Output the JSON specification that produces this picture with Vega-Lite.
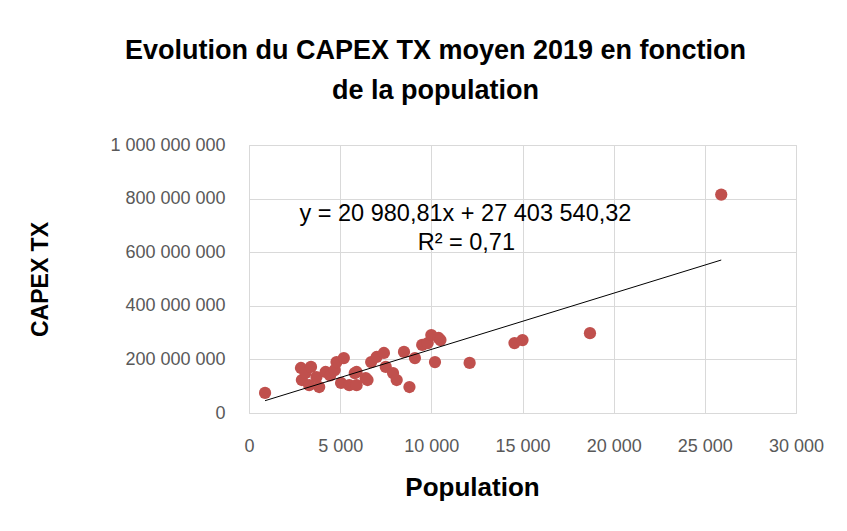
{
  "$schema": "https://vega.github.io/schema/vega-lite/v6.json",
  "width": 547,
  "height": 268,
  "autosize": {"type": "none"},
  "padding": {"left": 249, "top": 145, "right": 51, "bottom": 118},
  "background": "white",
  "config": {
    "view": {"stroke": "#D9D9D9"},
    "font": "Liberation Sans"
  },
  "title": {
    "text": ["Evolution du CAPEX TX  moyen 2019 en fonction", "de la population"],
    "font": "Liberation Sans",
    "fontSize": 27,
    "fontWeight": "bold",
    "color": "black",
    "lineHeight": 40,
    "anchor": "middle",
    "frame": "group",
    "dx": -87,
    "offset": 31
  },
  "layer": [
    {
      "data": {"values": [
        {"population": 880, "capex": 75000000},
        {"population": 2850, "capex": 168000000},
        {"population": 2900, "capex": 123000000},
        {"population": 3100, "capex": 150000000},
        {"population": 3300, "capex": 104000000},
        {"population": 3400, "capex": 172000000},
        {"population": 3700, "capex": 134000000},
        {"population": 3850, "capex": 97000000},
        {"population": 4200, "capex": 153000000},
        {"population": 4450, "capex": 140000000},
        {"population": 4700, "capex": 160000000},
        {"population": 4800, "capex": 190000000},
        {"population": 5050, "capex": 112000000},
        {"population": 5200, "capex": 205000000},
        {"population": 5500, "capex": 104000000},
        {"population": 5800, "capex": 149000000},
        {"population": 5900, "capex": 153000000},
        {"population": 5900, "capex": 104000000},
        {"population": 6400, "capex": 130000000},
        {"population": 6500, "capex": 123000000},
        {"population": 6700, "capex": 190000000},
        {"population": 7000, "capex": 209000000},
        {"population": 7400, "capex": 224000000},
        {"population": 7500, "capex": 172000000},
        {"population": 7900, "capex": 149000000},
        {"population": 8100, "capex": 123000000},
        {"population": 8500, "capex": 228000000},
        {"population": 8800, "capex": 97000000},
        {"population": 9100, "capex": 205000000},
        {"population": 9500, "capex": 254000000},
        {"population": 9800, "capex": 261000000},
        {"population": 10000, "capex": 291000000},
        {"population": 10200, "capex": 190000000},
        {"population": 10400, "capex": 280000000},
        {"population": 10500, "capex": 272000000},
        {"population": 12100, "capex": 187000000},
        {"population": 14560, "capex": 261000000},
        {"population": 15000, "capex": 272000000},
        {"population": 18700, "capex": 298000000},
        {"population": 25900, "capex": 815000000}
      ]},
      "mark": {"type": "circle", "color": "#C0504D", "size": 150, "opacity": 1},
      "encoding": {
        "x": {
          "field": "population", "type": "quantitative",
          "scale": {"domain": [0, 30000], "nice": false, "zero": true},
          "axis": {
            "values": [0, 5000, 10000, 15000, 20000, 25000, 30000],
            "labelExpr": "replace(format(datum.value, ','), regexp(',', 'g'), ' ')",
            "grid": true, "gridColor": "#D9D9D9",
            "domain": true, "domainColor": "#D9D9D9",
            "ticks": false,
            "labelFlush": false, "labelOverlap": false,
            "labelPadding": 24, "labelFontSize": 18, "labelColor": "#595959",
            "title": "Population",
            "titleFont": "Liberation Sans", "titleFontSize": 26, "titleFontWeight": "bold", "titleColor": "black",
            "titleX": 223, "titleY": 74, "titleAlign": "center", "titleBaseline": "middle"
          }
        },
        "y": {
          "field": "capex", "type": "quantitative",
          "scale": {"domain": [0, 1000000000], "nice": false, "zero": true},
          "axis": {
            "values": [0, 200000000, 400000000, 600000000, 800000000, 1000000000],
            "labelExpr": "replace(format(datum.value, ','), regexp(',', 'g'), ' ')",
            "grid": true, "gridColor": "#D9D9D9",
            "domain": false, "ticks": false,
            "labelPadding": 24, "labelFontSize": 18, "labelColor": "#595959",
            "title": "CAPEX TX",
            "titleFont": "Liberation Sans", "titleFontSize": 23, "titleFontWeight": "bold", "titleColor": "black",
            "titleX": -209, "titleY": 134, "titleAngle": -90, "titleAlign": "center", "titleBaseline": "middle"
          }
        }
      }
    },
    {
      "data": {"values": [
        {"population": 880, "capex": 45900000},
        {"population": 25900, "capex": 570800000}
      ]},
      "mark": {"type": "line", "color": "black", "strokeWidth": 1},
      "encoding": {
        "x": {"field": "population", "type": "quantitative"},
        "y": {"field": "capex", "type": "quantitative"}
      }
    },
    {
      "data": {"values": [
        {"population": 11870, "capex": 742000000, "label": "y = 20 980,81x + 27 403 540,32"},
        {"population": 11920, "capex": 634000000, "label": "R² = 0,71"}
      ]},
      "mark": {"type": "text", "fontSize": 23.5, "align": "center", "baseline": "middle", "color": "black"},
      "encoding": {
        "x": {"field": "population", "type": "quantitative"},
        "y": {"field": "capex", "type": "quantitative"},
        "text": {"field": "label"}
      }
    }
  ]
}
